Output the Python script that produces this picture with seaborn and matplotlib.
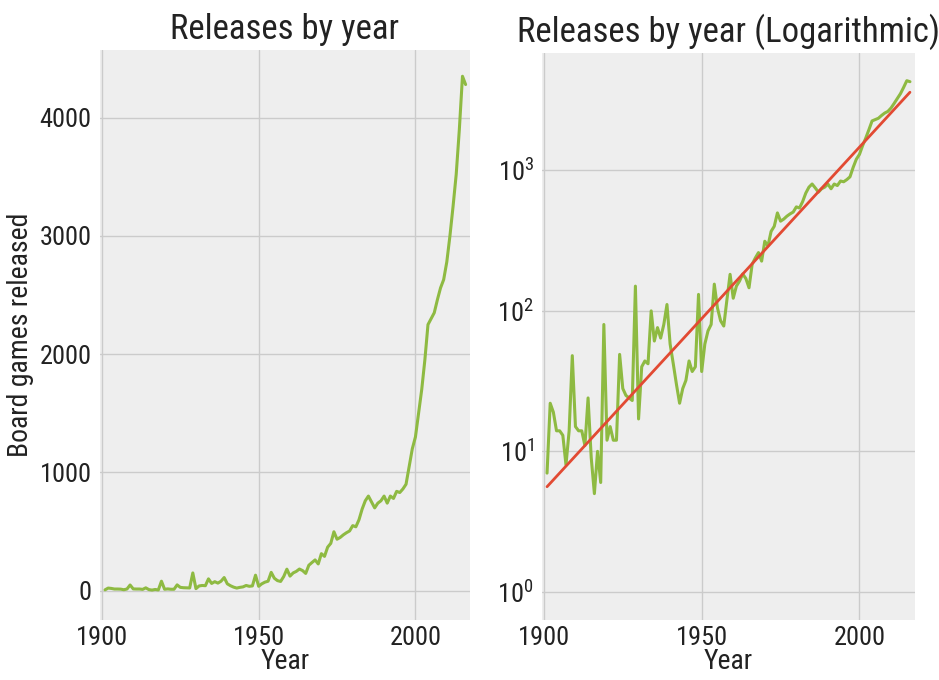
import numpy as np
import pandas as pd
import matplotlib
matplotlib.use("Agg")
import matplotlib.pyplot as plt
from matplotlib import font_manager
import seaborn as sns

# Board games released per year, 1901-2016
years = list(range(1901, 2017))
releases = [
    7, 22, 19, 14, 14, 13, 8, 14, 48, 15,          # 1901-1910
    14, 14, 11, 24, 9, 5, 10, 6, 80, 12,           # 1911-1920
    15, 12, 12, 49, 28, 25, 24, 23, 150, 17,       # 1921-1930
    40, 44, 42, 100, 61, 76, 64, 80, 111, 58,      # 1931-1940
    42, 30, 22, 28, 32, 44, 37, 40, 131, 37,       # 1941-1950
    58, 72, 80, 155, 105, 85, 78, 120, 182, 123,   # 1951-1960
    150, 163, 183, 170, 146, 215, 238, 260, 226, 313,   # 1961-1970
    290, 368, 400, 498, 435, 450, 472, 490, 505, 550,   # 1971-1980
    540, 600, 690, 760, 800, 750, 700, 740, 760, 800,   # 1981-1990
    740, 800, 780, 840, 830, 860, 900, 1050, 1200, 1300,  # 1991-2000
    1500, 1700, 1950, 2250, 2300, 2350, 2460, 2560, 2630, 2780,  # 2001-2010
    3000, 3250, 3520, 3900, 4350, 4280,             # 2011-2016
]

# exponential trend (straight on the log axis), start and end of the fit
trend_years = [1901, 2016]
trend_values = [5.6, 3600]

x_ticks = [1900, 1950, 2000]
lin_ticks = [0, 1000, 2000, 3000, 4000]
log_ticks = [1, 10, 100, 1000]

GREEN = "#8EBA42"
RED = "#E24A33"

available = {f.name for f in font_manager.fontManager.ttflist}
FONT = next((f for f in ("Liberation Sans Narrow", "Roboto Condensed", "Archivo Narrow")
             if f in available), "DejaVu Sans")

sns.set_style("darkgrid", {
    "axes.facecolor": "#eeeeee",
    "grid.color": "#cbcbcb",
    "axes.edgecolor": "#eeeeee",
    "axes.linewidth": 0,
})
plt.rcParams["font.family"] = [FONT, "DejaVu Sans"]
plt.rcParams["mathtext.fontset"] = "custom"
plt.rcParams["mathtext.rm"] = FONT
plt.rcParams["mathtext.it"] = FONT
plt.rcParams["mathtext.default"] = "regular"
for key in ("text.color", "axes.labelcolor", "xtick.color", "ytick.color"):
    plt.rcParams[key] = "#222222"

df = pd.DataFrame({"Year": years, "Releases": releases})
trend = pd.DataFrame({"Year": trend_years, "Trend": trend_values})

fig = plt.figure(figsize=(9.39, 6.8), dpi=100)
fig.patch.set_facecolor("white")
ax1 = fig.add_axes([100 / 939, 60 / 680, 370 / 939, 570 / 680])
ax2 = fig.add_axes([542 / 939, 60 / 680, 373 / 939, 567 / 680])

sns.lineplot(data=df, x="Year", y="Releases", ax=ax1, color=GREEN, linewidth=2.2)
sns.lineplot(data=df, x="Year", y="Releases", ax=ax2, color=GREEN, linewidth=2.2)
sns.lineplot(data=trend, x="Year", y="Trend", ax=ax2, color=RED, linewidth=2.0)

ax1.set_xlim(1899.4, 2017.4)
ax1.set_ylim(-248, 4572)
ax1.set_xticks(x_ticks)
ax1.set_yticks(lin_ticks)
ax1.set_title("Releases by year", fontsize=25, pad=8)
ax1.set_xlabel("Year", fontsize=20, labelpad=-1)
ax1.set_ylabel("Board games released", fontsize=20, labelpad=4)

ax2.set_yscale("log")
ax2.set_xlim(1899.4, 2017.6)
ax2.set_ylim(0.63, 6850)
ax2.set_xticks(x_ticks)
ax2.set_yticks(log_ticks)
ax2.set_yticklabels([r"$10^{%d}$" % int(np.log10(t)) for t in log_ticks])
ax2.minorticks_off()
ax2.set_title("Releases by year (Logarithmic)", fontsize=25, pad=8)
ax2.set_xlabel("Year", fontsize=20, labelpad=-1)
ax2.set_ylabel("")

for ax in (ax1, ax2):
    ax.tick_params(axis="both", labelsize=19, length=0, pad=6)
    ax.tick_params(axis="x", pad=4)
    ax.grid(True, which="major", color="#cbcbcb", linewidth=1.0)
    for s in ax.spines.values():
        s.set_visible(False)

fig.savefig("out.png", dpi=100, facecolor="white")
